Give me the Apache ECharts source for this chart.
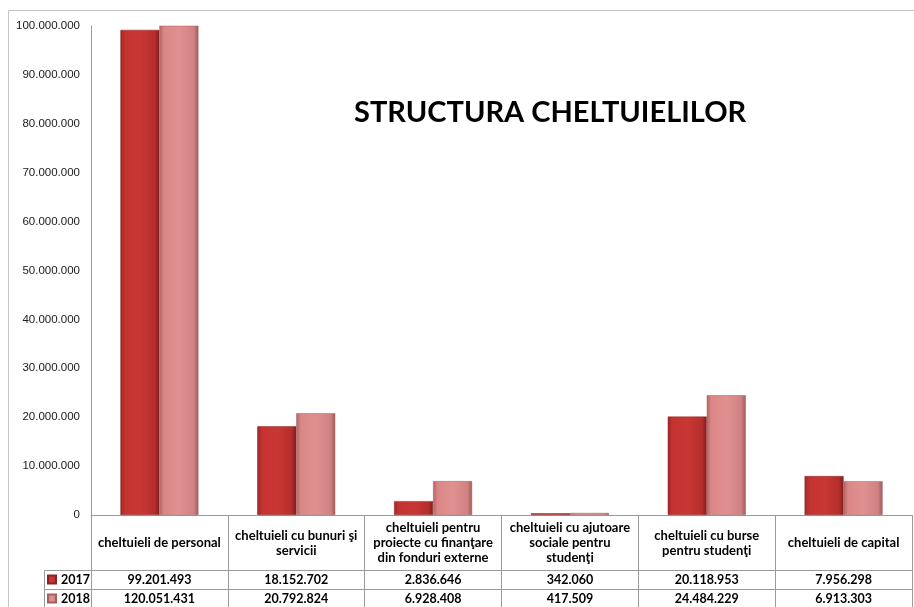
<!DOCTYPE html>
<html>
<head>
<meta charset="utf-8">
<script src="https://cdn.jsdelivr.net/npm/echarts@6/dist/echarts.min.js"></script>
<style>
  html, body { margin: 0; padding: 0; background: #fff; }
  #chart { width: 914px; height: 607px; }
</style>
</head>
<body>
<div id="chart"></div>
<script>
  // chart data
  var categories = [
    'cheltuieli de personal',
    'cheltuieli cu bunuri şi\nservicii',
    'cheltuieli pentru\nproiecte cu finanţare\ndin fonduri externe',
    'cheltuieli cu ajutoare\nsociale pentru\nstudenţi',
    'cheltuieli cu burse\npentru studenţi',
    'cheltuieli de capital'
  ];
  var years = ['2017', '2018'];
  var values2017 = [99201493, 18152702, 2836646, 342060, 20118953, 7956298];
  var values2018 = [120051431, 20792824, 6928408, 417509, 24484229, 6913303];
  var yMax = 100000000;
  var yStep = 10000000;

  function fmt(v) {
    return String(v).replace(/\B(?=(\d{3})+(?!\d))/g, '.');
  }

  var lineColor = '#9a9a9a';
  var tableFont = { fontFamily: 'Lato', fontWeight: 'bold', fontSize: 12.5, color: '#000' };

  var chart = echarts.init(document.getElementById('chart'));

  var grad2017 = new echarts.graphic.LinearGradient(0, 0, 1, 0, [
    { offset: 0, color: '#9c2826' },
    { offset: 0.12, color: '#c23331' },
    { offset: 0.5, color: '#c93734' },
    { offset: 0.88, color: '#b42e2c' },
    { offset: 1, color: '#7e1e1d' }
  ]);
  var grad2018 = new echarts.graphic.LinearGradient(0, 0, 1, 0, [
    { offset: 0, color: '#b46464' },
    { offset: 0.12, color: '#db8787' },
    { offset: 0.5, color: '#e09090' },
    { offset: 0.88, color: '#d08282' },
    { offset: 1, color: '#a05a5a' }
  ]);

  // table rows drawn as extra category axes under the grid
  function tableAxis(values, offset) {
    return {
      type: 'category',
      data: categories,
      position: 'bottom',
      offset: offset,
      axisLine: { show: true, lineStyle: { color: lineColor } },
      axisTick: { show: true, length: 19, inside: false, lineStyle: { color: lineColor } },
      axisLabel: Object.assign({
        interval: 0,
        margin: 10,
        verticalAlign: 'middle',
        formatter: function (val, idx) { return fmt(values[idx]); }
      }, tableFont),
      splitLine: { show: false }
    };
  }

  function legendRow(name, top) {
    return {
      data: [name],
      orient: 'horizontal',
      left: 47,
      top: top,
      padding: 0,
      icon: 'rect',
      itemWidth: 8,
      itemHeight: 8,
      itemGap: 4,
      selectedMode: false,
      textStyle: tableFont
    };
  }

  var option = {
    animation: false,
    backgroundColor: '#fff',
    title: {
      text: 'STRUCTURA CHELTUIELILOR',
      left: 349,
      top: 93,
      textStyle: { fontFamily: 'Lato', fontWeight: 'bold', fontSize: 29, color: '#000' }
    },
    legend: [legendRow(years[0], 573), legendRow(years[1], 592)],
    grid: { left: 91, right: 2, top: 26, bottom: 92, containLabel: false },
    xAxis: [
      {
        type: 'category',
        data: categories,
        position: 'bottom',
        axisLine: { show: true, lineStyle: { color: lineColor } },
        axisTick: { show: true, length: 55, inside: false, lineStyle: { color: lineColor } },
        axisLabel: Object.assign({
          interval: 0,
          margin: 28,
          verticalAlign: 'middle',
          align: 'center',
          lineHeight: 15
        }, tableFont, { fontSize: 13 }),
        splitLine: { show: false }
      },
      tableAxis(values2017, 55),
      tableAxis(values2018, 74)
    ],
    yAxis: {
      type: 'value',
      min: 0,
      max: yMax,
      interval: yStep,
      axisLine: { show: true, lineStyle: { color: lineColor } },
      axisTick: { show: false },
      splitLine: { show: false },
      axisLabel: {
        margin: 11,
        fontFamily: 'Liberation Sans',
        fontSize: 11.5,
        color: '#1a1a1a',
        formatter: function (v) { return fmt(v); }
      }
    },
    series: [
      {
        name: years[0],
        type: 'bar',
        xAxisIndex: 0,
        data: values2017,
        barWidth: 39,
        barGap: '0%',
        clip: true,
        itemStyle: { color: grad2017, borderColor: '#8a2422', borderWidth: 0.5 }
      },
      {
        name: years[1],
        type: 'bar',
        xAxisIndex: 0,
        data: values2018,
        barWidth: 39,
        barGap: '0%',
        clip: true,
        itemStyle: { color: grad2018, borderColor: '#a06060', borderWidth: 0.5 }
      }
    ],
    graphic: [
      // outer chart border
      { type: 'rect', silent: true, shape: { x: 8.5, y: 10.5, width: 1000, height: 1000 },
        style: { fill: null, stroke: '#c4c4c4', lineWidth: 1 } },
      // legend cells of the data table
      { type: 'polyline', silent: true,
        shape: { points: [[91, 570.5], [44.5, 570.5], [44.5, 620]] },
        style: { fill: null, stroke: lineColor, lineWidth: 1 } },
      { type: 'line', silent: true, shape: { x1: 44.5, y1: 589.5, x2: 91, y2: 589.5 },
        style: { stroke: lineColor, lineWidth: 1 } }
    ]
  };

  chart.setOption(option);
  window.addEventListener('resize', function () { chart.resize(); });
</script>
</body>
</html>
